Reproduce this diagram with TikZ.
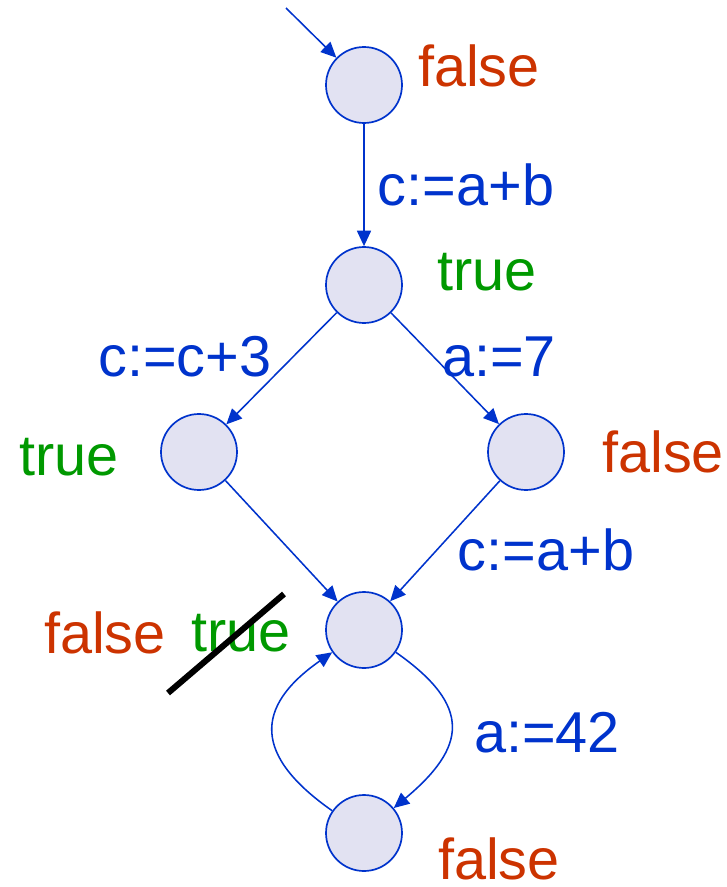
\documentclass[tikz,border=0pt]{standalone}
\usepackage{fontspec}
\setmainfont{Liberation Sans}
\usepackage{xcolor}
\usepackage{tikz}
\usetikzlibrary{arrows.meta, positioning, calc}
\definecolor{edgeblue}{RGB}{0,51,204}
\definecolor{falsered}{RGB}{204,51,0}
\definecolor{truegreen}{RGB}{0,153,0}
\definecolor{statefill}{RGB}{226,226,242}
\tikzstyle{cfgnode} = [circle, minimum size=1.9cm, inner sep=0pt, draw=edgeblue, line width=1.2pt, fill=statefill]
\tikzstyle{arrow} = [edgeblue, line width=1.1pt, -{Triangle[length=11pt,width=10pt]}]
\tikzstyle{lbl} = [inner sep=0pt, font=\fontsize{41}{49}\selectfont]
\tikzstyle{lblfalse} = [lbl, text=falsered]
\tikzstyle{lbltrue} = [lbl, text=truegreen]
\tikzstyle{lblcode} = [lbl, text=edgeblue]

\begin{document}
\begin{tikzpicture}[on grid]
  \useasboundingbox (0,0) rectangle (18.15,-22.175);
  \node (n1) [cfgnode] at (9.1,-2.125) {};
  \node (n2) [cfgnode, below=5cm of n1] {};
  \node (n3) [cfgnode, below left=4.175cm and 4.125cm of n2] {};
  \node (n4) [cfgnode, below right=4.175cm and 4.05cm of n2] {};
  \node (n5) [cfgnode, below=8.625cm of n2] {};
  \node (n6) [cfgnode, below=5.075cm of n5] {};
  \coordinate (entry) at ($(n1)+(-1.95,1.925)$);
  % labels
  \node (f1) [lblfalse, above right=0.475cm and 2.875cm of n1] {false};
  \node (c12) [lblcode, below right=2.5cm and 2.55cm of n1] {c:=a+b};
  \node (t2) [lbltrue, above right=0.325cm and 3.075cm of n2] {true};
  \node (c23) [lblcode, below left=1.8cm and 4.475cm of n2] {c:=c+3};
  \node (c24) [lblcode, below right=1.8cm and 3.375cm of n2] {a:=7};
  \node (t3) [lbltrue, below left=0.125cm and 3.25cm of n3] {true};
  \node (f4) [lblfalse, right=3.425cm of n4] {false};
  \node (c45) [lblcode, below right=2.45cm and 0.5cm of n4] {c:=a+b};
  \node (f5) [lblfalse, below left=0.075cm and 6.475cm of n5] {false};
  \node (t5) [lbltrue, below left=0.075cm and 3.075cm of n5] {true};
  \node (c56) [lblcode, below right=2.575cm and 4.575cm of n5] {a:=42};
  \node (f6) [lblfalse, below right=0.64cm and 3.375cm of n6] {false};
  % edges
  \draw[arrow] (entry) -- (n1);
  \draw[arrow] (n1) -- (n2);
  \draw[arrow] (n2) -- (n3);
  \draw[arrow] (n2) -- (n4);
  \draw[arrow] (n3) -- (n5);
  \draw[arrow] (n4) -- (n5);
  \draw[arrow] (n5) to[out=-35, in=40, looseness=1.55] (n6);
  \draw[arrow] (n6) to[out=145, in=215, looseness=1.55] (n5);
  % struck-out value
  \draw[black, line width=4.3pt] ($(t5)+(-1.825,-1.5)$) -- ($(t5)+(1.075,0.975)$);
\end{tikzpicture}
\end{document}
